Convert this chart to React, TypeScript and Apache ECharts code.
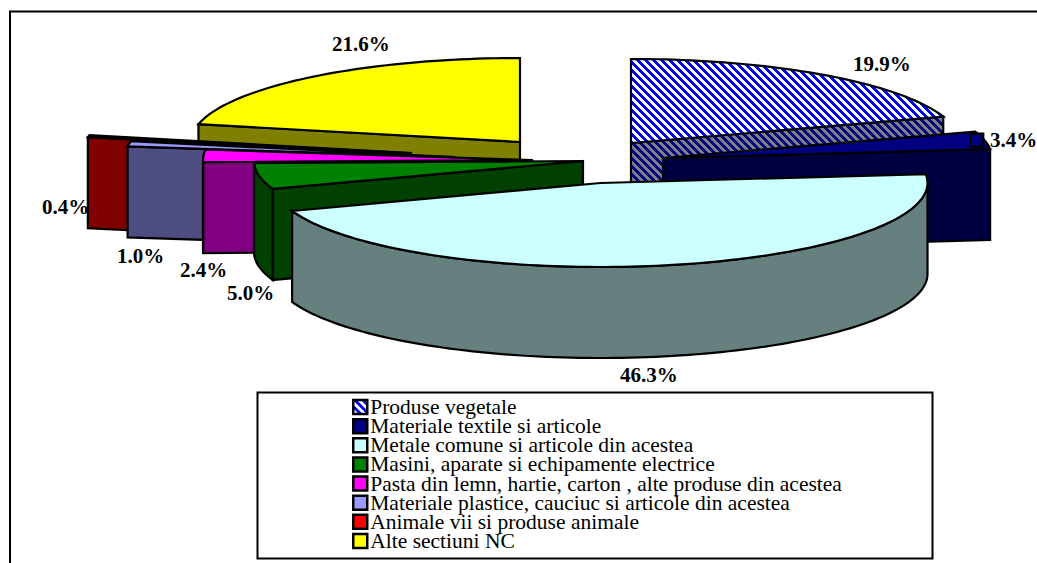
import React, { useEffect, useRef } from "react";
import * as echarts from "echarts";

const categories = [
  "Produse vegetale",
  "Materiale textile si articole",
  "Metale comune si articole din acestea",
  "Masini, aparate si echipamente electrice",
  "Pasta din lemn, hartie, carton , alte produse din acestea",
  "Materiale plastice, cauciuc si articole din acestea",
  "Animale vii si produse animale",
  "Alte sectiuni NC",
];
const shares = [19.9, 3.4, 46.3, 5.0, 2.4, 1.0, 0.4, 21.6];

const topColours = ["#0000FF", "#000080", "#CCFFFF", "#008000", "#FF00FF", "#9999FF", "#FF0000", "#FFFF00"];
const sideColours = ["#000080", "#000040", "#668080", "#004000", "#800080", "#4D4D80", "#800000", "#808000"];

// Layout only: exploded apex of each slice, label anchors, paint order.
const apexes = [[631, 143], [663, 158], [600.5, 183], [583, 161], [532, 160], [454, 157], [411, 153], [520, 142]];
const radiiX = [329, 329, 327, 329, 329, 329, 329, 329];
const labelAnchors = [[853, 64], [990, 140], [620, 375], [227, 293], [180, 270], [117, 256], [42, 207], [332, 44]];
const paintOrder = [0, 7, 6, 5, 4, 3, 1, 2];
const RY = 84;
const DEPTH = 91;
const FONT = '"Liberation Serif", "Times New Roman", serif';

function hatch(a: string, b: string) {
  const c = document.createElement("canvas");
  c.width = 8;
  c.height = 8;
  const g = c.getContext("2d")!;
  for (let y = 0; y < 8; y++) {
    for (let x = 0; x < 8; x++) {
      g.fillStyle = (x - y + 16) % 8 < 4 ? a : b;
      g.fillRect(x, y, 1, 1);
    }
  }
  return { image: c.toDataURL(), repeat: "repeat", imageWidth: 8, imageHeight: 8 };
}

function rim(i: number, deg: number, dy = 0): number[] {
  const t = (deg * Math.PI) / 180;
  return [apexes[i][0] + radiiX[i] * Math.sin(t), apexes[i][1] - RY * Math.cos(t) + dy];
}

function arc(i: number, a: number, b: number, dy = 0): number[][] {
  const pts: number[][] = [];
  const n = Math.max(1, Math.ceil((b - a) / 1.5));
  for (let k = 0; k <= n; k++) pts.push(rim(i, a + ((b - a) * k) / n, dy));
  return pts;
}

export default function App() {
  const ref = useRef<HTMLDivElement>(null);
  useEffect(() => {
    document.body.style.margin = "0";
    const chart = echarts.init(ref.current!, undefined, { renderer: "svg" });
    const topHatch = hatch("#0000FF", "#FFFFFF");
    const sideHatch = hatch("#000080", "#808080");
    const topFill = (i: number) => (i === 0 ? topHatch : topColours[i]);
    const sideFill = (i: number) => (i === 0 ? sideHatch : sideColours[i]);

    const stroke = { stroke: "#000", lineWidth: 2.2, lineJoin: "miter" };
    const starts: number[] = [];
    shares.reduce((acc, v, i) => {
      starts[i] = acc;
      return acc + v;
    }, 0);
    const total = shares.reduce((s, v) => s + v, 0);

    const renderSlice = (_: any, api: any) => {
      const i = api.value(0);
      const a = (api.value(1) / total) * 360;
      const b = a + (api.value(2) / total) * 360;
      const apex = apexes[i];
      const children: any[] = [];
      const wall = (deg: number) => {
        const r = rim(i, deg);
        children.push({
          type: "polygon",
          shape: { points: [apex, r, [r[0], r[1] + DEPTH], [apex[0], apex[1] + DEPTH]] },
          style: { fill: sideFill(i), ...stroke },
        });
      };
      if (Math.sin((a * Math.PI) / 180) < 0) wall(a);
      if (Math.sin((b * Math.PI) / 180) > 0) wall(b);
      const lo = Math.max(a, 90);
      const hi = Math.min(b, 270);
      if (hi > lo) {
        children.push({
          type: "polygon",
          shape: { points: [...arc(i, lo, hi), ...arc(i, lo, hi, DEPTH).reverse()] },
          style: { fill: sideFill(i), ...stroke },
        });
      }
      children.push({
        type: "polygon",
        shape: { points: [apex, ...arc(i, a, b)] },
        style: { fill: topFill(i), ...stroke },
      });
      if (i === 1) {
        const r = rim(i, a);
        children.push({
          type: "rect",
          shape: { x: r[0] - 5, y: r[1] + 2, width: 13, height: 13 },
          style: { fill: topColours[i], ...stroke },
        });
      }
      return { type: "group", children };
    };

    const sliceSeries = paintOrder.map((i) => ({
      type: "custom",
      name: categories[i],
      coordinateSystem: "none",
      silent: true,
      itemStyle: { color: topColours[i] },
      renderItem: renderSlice,
      data: [[i, starts[i], shares[i]]],
    }));

    const labelSeries = {
      type: "custom",
      name: "labels",
      coordinateSystem: "none",
      silent: true,
      renderItem: (_: any, api: any) => {
        const i = api.value(0);
        return {
          type: "text",
          style: {
            x: labelAnchors[i][0],
            y: labelAnchors[i][1],
            text: `${api.value(1).toFixed(1)}%`,
            font: `bold 21px ${FONT}`,
            fill: "#000",
            align: "left",
            verticalAlign: "middle",
          },
        };
      },
      data: shares.map((v, i) => [i, v]),
    };

    chart.setOption({
      animation: false,
      backgroundColor: "#fff",
      tooltip: { show: false },
      graphic: [
        {
          type: "polyline",
          z: -1,
          shape: { points: [[10, 563], [10, 11.5], [1037, 11.5]] },
          style: { fill: "none", stroke: "#000", lineWidth: 2 },
        },
        {
          type: "rect",
          z: -1,
          shape: { x: 257.5, y: 392.5, width: 675, height: 166 },
          style: { fill: "#fff", stroke: "#000", lineWidth: 2 },
        },
      ],
      legend: {
        left: 352,
        top: 396,
        orient: "vertical",
        padding: 0,
        itemWidth: 14,
        itemHeight: 14,
        itemGap: -2.86,
        selectedMode: false,
        icon: "rect",
        textStyle: { fontFamily: FONT, fontSize: 21.5, color: "#000", padding: [0, 0, 0, -2] },
        data: categories.map((name, i) => ({
          name,
          icon: "rect",
          itemStyle: { color: topFill(i), borderColor: "#000", borderWidth: 2.5 },
        })),
      },
      series: [labelSeries, ...sliceSeries],
    });
    return () => chart.dispose();
  }, []);
  return <div ref={ref} style={{ position: "absolute", left: 0, top: 0, width: 1037, height: 563 }} />;
}
